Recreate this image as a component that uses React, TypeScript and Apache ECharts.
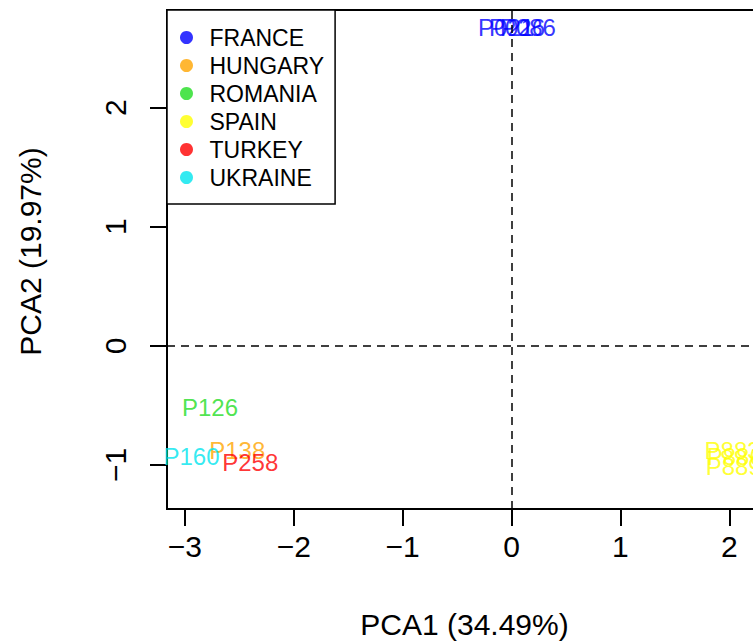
import React, { useEffect, useRef } from "react";
import * as echarts from "echarts";

const countries = ["FRANCE", "HUNGARY", "ROMANIA", "SPAIN", "TURKEY", "UKRAINE"];
const colors = ["#0000FF", "#FFA500", "#22DD22", "#FFFF00", "#FF0000", "#00E5EE"];

const franceNames = ["P021", "P026", "P086"];
const franceX = [-0.05, 0.05, 0.15];
const franceY = [2.67, 2.67, 2.67];

const hungaryNames = ["P138"];
const hungaryX = [-2.52];
const hungaryY = [-0.88];

const romaniaNames = ["P126"];
const romaniaX = [-2.77];
const romaniaY = [-0.52];

const spainNames = ["P883", "P886", "P889"];
const spainX = [2.03, 2.05, 2.04];
const spainY = [-0.88, -0.93, -1.01];

const turkeyNames = ["P258"];
const turkeyX = [-2.4];
const turkeyY = [-0.98];

const ukraineNames = ["P160"];
const ukraineX = [-2.94];
const ukraineY = [-0.925];

const xTicks = [-3, -2, -1, 0, 1, 2];
const yTicks = [-1, 0, 1, 2];

const groups = [
  [franceNames, franceX, franceY],
  [hungaryNames, hungaryX, hungaryY],
  [romaniaNames, romaniaX, romaniaY],
  [spainNames, spainX, spainY],
  [turkeyNames, turkeyX, turkeyY],
  [ukraineNames, ukraineX, ukraineY],
] as [string[], number[], number[]][];

const FONT = "'Liberation Sans', Arial, sans-serif";
const fmt = (v: number) => String(v).replace("-", "\u2212");

export default function App() {
  const ref = useRef<HTMLDivElement>(null);
  useEffect(() => {
    if (!ref.current) return;
    const chart = echarts.init(ref.current, undefined, { renderer: "svg" });
    const series: any[] = countries.map((c, i) => ({
      name: c,
      type: "scatter",
      symbolSize: 0,
      itemStyle: { color: colors[i] },
      label: {
        show: true,
        position: "inside",
        formatter: "{b}",
        color: colors[i],
        fontSize: 24,
        fontFamily: FONT,
      },
      data: groups[i][0].map((n, k) => ({ name: n, value: [groups[i][1][k], groups[i][2][k]] })),
    }));
    series.push({
      name: "ref",
      type: "scatter",
      data: [],
      silent: true,
      markLine: {
        silent: true,
        symbol: ["none", "none"],
        label: { show: false },
        lineStyle: { type: [8, 6], color: "#000", width: 1.5 },
        data: [{ yAxis: 0 }, { xAxis: 0 }],
      },
    });
    chart.setOption({
      animation: false,
      backgroundColor: "#fff",
      grid: {
        left: 167,
        top: 10,
        width: 595,
        height: 503,
        show: true,
        borderColor: "#000",
        borderWidth: 2,
        backgroundColor: "transparent",
      },
      legend: {
        data: countries,
        orient: "vertical",
        left: 167,
        top: 10,
        backgroundColor: "#fff",
        borderColor: "#000",
        borderWidth: 1.5,
        padding: [16, 11, 15, 13],
        itemWidth: 36,
        itemHeight: 13,
        itemGap: 5,
        icon: "circle",
        selectedMode: false,
        textStyle: { fontSize: 23, color: "#000", fontFamily: FONT, lineHeight: 22 },
      },
      xAxis: {
        type: "value",
        min: -3.165,
        max: 2.3,
        name: "PCA1 (34.49%)",
        nameLocation: "middle",
        nameGap: 100,
        nameTextStyle: { fontSize: 30, color: "#000", fontFamily: FONT },
        splitLine: { show: false },
        axisLine: { show: true, onZero: false, lineStyle: { color: "#000", width: 2 } },
        axisTick: { show: true, length: 17, customValues: xTicks, lineStyle: { color: "#000", width: 2 } },
        axisLabel: {
          customValues: xTicks,
          formatter: (v: number) => fmt(v),
          fontSize: 30,
          color: "#000",
          fontFamily: FONT,
          margin: 22,
        },
      },
      yAxis: {
        type: "value",
        min: -1.37,
        max: 2.82,
        name: "PCA2 (19.97%)",
        nameLocation: "middle",
        nameRotate: 90,
        nameGap: 122,
        nameTextStyle: { fontSize: 30, color: "#000", fontFamily: FONT, padding: [0, 0, 0, 16] },
        splitLine: { show: false },
        axisLine: { show: true, onZero: false, lineStyle: { color: "#000", width: 2 } },
        axisTick: { show: true, length: 17, customValues: yTicks, lineStyle: { color: "#000", width: 2 } },
        axisLabel: {
          customValues: yTicks,
          formatter: (v: number) => fmt(v),
          rotate: 90,
          fontSize: 30,
          color: "#000",
          fontFamily: FONT,
          margin: 37,
        },
      },
      series,
    });
    return () => chart.dispose();
  }, []);
  return (
    <div style={{ position: "fixed", left: 0, top: 0, width: 753, height: 644, overflow: "hidden", background: "#fff" }}>
      <div ref={ref} style={{ width: 800, height: 644 }} />
    </div>
  );
}
